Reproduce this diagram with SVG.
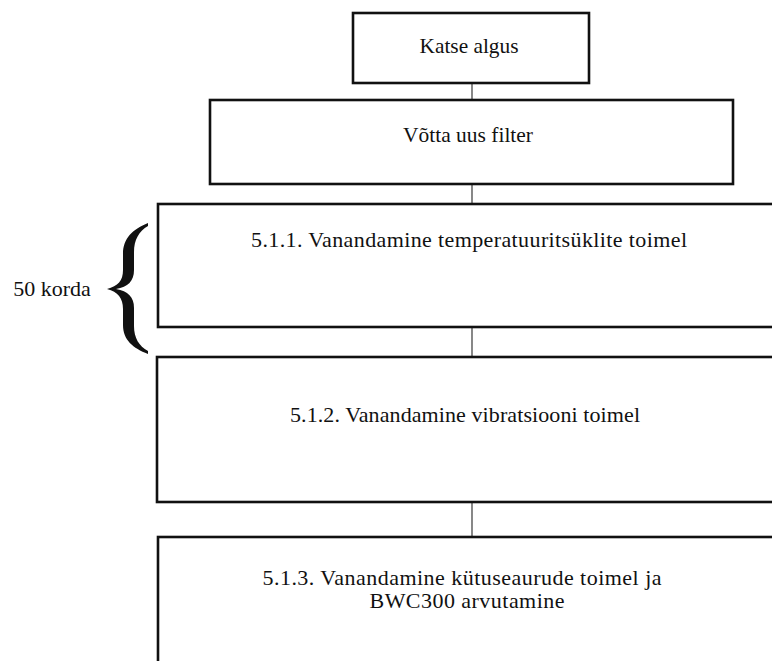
<svg xmlns="http://www.w3.org/2000/svg" width="772" height="661" viewBox="0 0 772 661" font-family="'Liberation Serif', 'DejaVu Serif', 'Times New Roman', serif">
<style>
.box{fill:#fff;stroke:#111;stroke-width:2.6}
.conn{stroke:#555;stroke-width:1.4;fill:none}
.t{font-family:'Liberation Serif','DejaVu Serif',serif;font-size:22px;fill:#111;text-anchor:middle}
</style>
<rect width="772" height="661" fill="#fff"/>
<g id="connectors">
<line class="conn" x1="472" y1="83" x2="472" y2="100"/>
<line class="conn" x1="472" y1="184" x2="472" y2="203"/>
<line class="conn" x1="472" y1="327" x2="472" y2="357"/>
<line class="conn" x1="472" y1="502" x2="472" y2="537"/>
</g>
<g id="n1">
<rect class="box" x="353" y="13" width="236" height="70" stroke-width="3"/>
<text class="t" x="469" y="53" textLength="99" lengthAdjust="spacingAndGlyphs">Katse algus</text>
</g>
<g id="n2">
<rect class="box" x="210" y="100" width="523" height="84"/>
<text class="t" x="468" y="142" textLength="130" lengthAdjust="spacingAndGlyphs">Võtta uus filter</text>
</g>
<g id="n3">
<rect class="box" x="158" y="204" width="640" height="123"/>
<text class="t" x="469" y="247" textLength="436" lengthAdjust="spacing">5.1.1. Vanandamine temperatuuritsüklite toimel</text>
</g>
<g id="n4">
<rect class="box" x="157" y="357" width="640" height="145"/>
<text class="t" x="465" y="422" textLength="350" lengthAdjust="spacing">5.1.2. Vanandamine vibratsiooni toimel</text>
</g>
<g id="n5">
<rect class="box" x="158" y="537" width="640" height="160"/>
<text class="t" x="462" y="585" textLength="399" lengthAdjust="spacing">5.1.3. Vanandamine kütuseaurude toimel ja</text>
<text class="t" x="467" y="608" textLength="195" lengthAdjust="spacing">BWC300 arvutamine</text>
</g>
<g id="brace">
<path fill="#111" d="M148,223 C133,229 123,238 123,254 L123,270 C123,281 118,286 107,289 C118,292 123,298 123,309 L123,325 C123,340 133,348 148,354 L148,351 C139,346 134,338 134,326 L134,308 C134,297 128,291 116,289 C128,287 134,281 134,270 L134,252 C134,240 139,231 148,226 Z"/>
<text class="t" x="52" y="296">50 korda</text>
</g>
</svg>
